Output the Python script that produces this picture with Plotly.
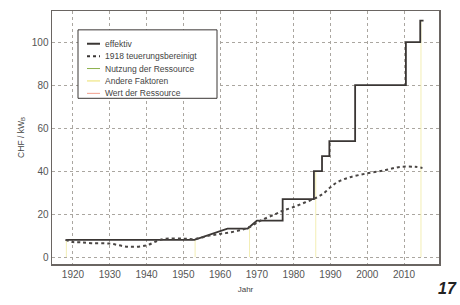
import plotly.graph_objects as go

# ---- data ----
eff_years = [1918, 1953, 1962, 1967.5, 1970, 1977, 1977, 1985.5, 1985.5, 1987.7, 1987.7,
             1989.7, 1989.7, 1996.7, 1996.7, 2010.5, 2010.5, 2014.4, 2014.4, 2015.3]
eff_vals = [8, 8, 13.3, 13.3, 17, 17, 27, 27, 40, 40, 47, 47, 54, 54, 80, 80, 100, 100, 110, 110]

adj_years = [1918, 1920, 1922, 1925, 1930, 1935, 1940, 1943, 1945, 1950, 1953, 1957, 1960,
             1963, 1966, 1968, 1971, 1975, 1977, 1980, 1983, 1986, 1988, 1990, 1992, 1995,
             2000, 2005, 2009, 2013, 2015]
adj_vals = [8, 7, 6.9, 6.5, 6.3, 4.8, 5.5, 7.6, 8.5, 8.6, 8.4, 10, 10.8, 11.6, 12.8, 14,
            17, 20, 21.6, 23.3, 25.4, 27.5, 29.5, 32.5, 35, 37, 39, 40.5, 42, 42, 41.5]

# thin component lines (Andere Faktoren) at selected years: from 0 up to value
fak_years = [1918.2, 1953.2, 1968, 1986, 2014.6]
fak_vals = [8, 8, 13.3, 40, 110]

x_ticks = [1920, 1930, 1940, 1950, 1960, 1970, 1980, 1990, 2000, 2010]
y_ticks = [0, 20, 40, 60, 80, 100]

legend_names = ["effektiv", "1918 teuerungsbereinigt", "Nutzung der Ressource",
                "Andere Faktoren", "Wert der Ressource"]
legend_colors = ["#3a3634", "#3a3634", "#8cb04c", "#ece06a", "#f2a08e"]
legend_dash = ["solid", "dot", "solid", "solid", "solid"]
legend_width = [2, 2, 1, 1, 1]

W, H = 460, 305
ML, MR, MT, MB = 52, 21, 9, 41
PW, PH = W - ML - MR, H - MT - MB


def px(x):
    return (x - ML) / PW


def py(y):
    return 1 - (y - MT) / PH


fig = go.Figure()

fx, fy = [], []
for yr, v in zip(fak_years, fak_vals):
    fx += [yr, yr, None]
    fy += [0, v, None]

fig.add_trace(go.Scatter(x=fx, y=fy, mode="lines", name="Andere Faktoren",
                         line=dict(color="#f3eeb4", width=1), showlegend=False))
fig.add_trace(go.Scatter(x=eff_years, y=eff_vals, mode="lines", name="effektiv",
                         line=dict(color="#3a3634", width=1.8), showlegend=False))
fig.add_trace(go.Scatter(x=adj_years, y=adj_vals, mode="lines", name="1918 teuerungsbereinigt",
                         line=dict(color="#4a4644", width=2, dash="dot", shape="spline"),
                         showlegend=False))

grid = dict(showgrid=True, gridcolor="#aaa6a0", griddash="dot", gridwidth=1)
fig.update_xaxes(range=[1914.3, 2019.5], tickvals=x_ticks, ticks="", **grid,
                 showline=True, linecolor="#6a6562", linewidth=1.5, mirror=True,
                 zeroline=False,
                 title=dict(text="Jahr", font=dict(size=8, color="#444"), standoff=8),
                 tickfont=dict(size=10, color="#555"))
fig.update_yaxes(range=[-3.2, 114.5], tickvals=y_ticks, ticks="", **grid,
                 showline=True, linecolor="#6a6562", linewidth=1.5, mirror=True,
                 zeroline=False,
                 title=dict(text="CHF / kW<sub>B</sub>", font=dict(size=8.5, color="#444"), standoff=6),
                 tickfont=dict(size=10, color="#555"))

# manual compact legend
shapes = [dict(type="rect", xref="paper", yref="paper", x0=px(78), x1=px(217),
               y0=py(97), y1=py(28), line=dict(color="#3a3634", width=1),
               fillcolor="white", layer="above")]
annotations = []
row_y = [42, 54.5, 67, 79.5, 92]
for name, col, dsh, wd, ry in zip(legend_names, legend_colors, legend_dash, legend_width, row_y):
    shapes.append(dict(type="line", xref="paper", yref="paper", x0=px(87), x1=px(100),
                       y0=py(ry), y1=py(ry), line=dict(color=col, width=wd, dash=dsh),
                       layer="above"))
    annotations.append(dict(text=name, xref="paper", yref="paper", x=px(103), y=py(ry),
                            xanchor="left", yanchor="middle", showarrow=False,
                            font=dict(size=8.5, color="#444")))

annotations.append(dict(text="<b><i>17</i></b>", xref="paper", yref="paper",
                        x=px(447), y=py(289), xanchor="center", yanchor="middle",
                        showarrow=False, font=dict(size=16, color="#222")))

fig.update_layout(
    width=W, height=H,
    margin=dict(l=ML, r=MR, t=MT, b=MB),
    paper_bgcolor="white", plot_bgcolor="white",
    font=dict(family="Liberation Sans, Arial, sans-serif", color="#444"),
    showlegend=False,
    hovermode=False,
    shapes=shapes,
    annotations=annotations,
)

fig.write_html("out.html", config={"displayModeBar": False, "staticPlot": True},
               post_script="document.body.style.margin='0';document.body.style.overflow='hidden';")
